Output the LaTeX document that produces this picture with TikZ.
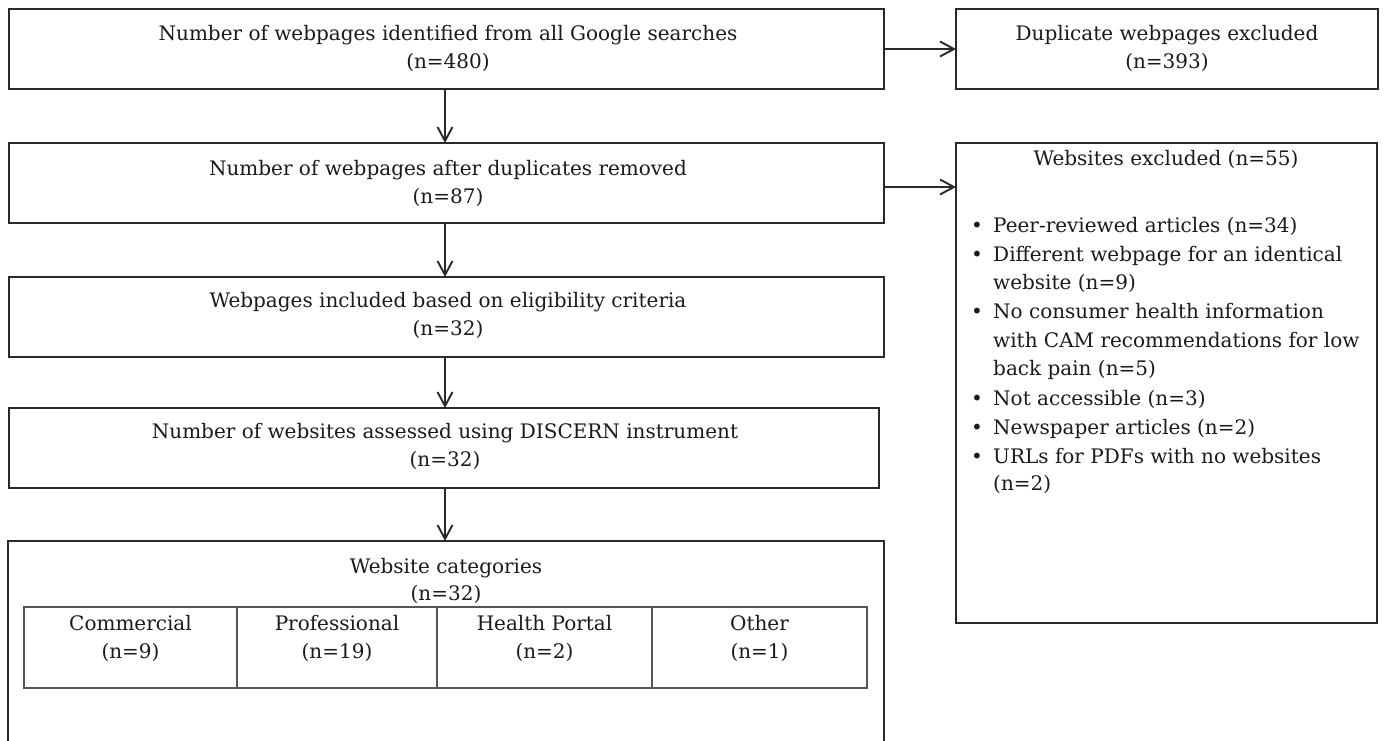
\documentclass[tikz,border=0pt]{standalone}
\usepackage{fontspec}
\setmainfont{DejaVu Serif}
\usetikzlibrary{arrows.meta}
\definecolor{ink}{HTML}{1C1A1B}
\definecolor{edge}{HTML}{2A2A2A}
\definecolor{gridc}{HTML}{555555}
\begin{document}
\begin{tikzpicture}[x=1pt,y=-1pt,
  box/.style={draw=edge, line width=1.9pt, anchor=north west, inner sep=0pt, outer sep=0pt},
  cell/.style={draw=gridc, line width=1.3pt, anchor=north west, inner sep=0pt, outer sep=0pt},
  txt/.style={anchor=base, inner sep=0pt, text=ink, font=\fontsize{20}{28}\selectfont},
  ltxt/.style={txt, anchor=base west},
  arr/.style={draw=edge, line width=1.9pt, -{Straight Barb[length=14pt,width=15pt,line width=1.9pt]}},
]
\useasboundingbox[fill=white] (0,0) rectangle (1389,740);
\begin{scope}
\clip (0,0) rectangle (1389,740);
% main boxes
\node[box, minimum width=875pt, minimum height=80pt] (b1) at (9,9) {};
\node[box, minimum width=422pt, minimum height=80pt] (dup) at (956,9) {};
\node[box, minimum width=875pt, minimum height=80pt] (b2) at (9,143) {};
\node[box, minimum width=421pt, minimum height=480pt] (excl) at (956,143) {};
\node[box, minimum width=875pt, minimum height=80pt] (b3) at (9,277) {};
\node[box, minimum width=870pt, minimum height=80pt] (b4) at (9,408) {};
\node[box, minimum width=876pt, minimum height=240pt] (b5) at (8,541) {};
% table cells
\node[cell, minimum width=213pt, minimum height=81pt] (c1) at (24,607) {};
\node[cell, minimum width=200pt, minimum height=81pt] (c2) at (237,607) {};
\node[cell, minimum width=215pt, minimum height=81pt] (c3) at (437,607) {};
\node[cell, minimum width=215pt, minimum height=81pt] (c4) at (652,607) {};
\end{scope}
% texts
\node[txt] (t1a) at (448,40) {Number of webpages identified from all Google searches};
\node[txt] (t1b) at (448,68) {(n=480)};
\node[txt] (d1) at (1167,40) {Duplicate webpages excluded};
\node[txt] (d2) at (1167,68) {(n=393)};
\node[txt] (t2a) at (448,175) {Number of webpages after duplicates removed};
\node[txt] (t2b) at (448,203) {(n=87)};
\node[txt] (t3a) at (448,307) {Webpages included based on eligibility criteria};
\node[txt] (t3b) at (448,335) {(n=32)};
\node[txt] (t4a) at (445,438) {Number of websites assessed using DISCERN instrument};
\node[txt] (t4b) at (445,466) {(n=32)};
\node[txt] (t5a) at (446,573) {Website categories};
\node[txt] (t5b) at (446,600) {(n=32)};
\node[txt] (c1a) at (130.5,630) {Commercial};
\node[txt] (c1b) at (130.5,658) {(n=9)};
\node[txt] (c2a) at (337,630) {Professional};
\node[txt] (c2b) at (337,658) {(n=19)};
\node[txt] (c3a) at (544.5,630) {Health Portal};
\node[txt] (c3b) at (544.5,658) {(n=2)};
\node[txt] (c4a) at (759.5,630) {Other};
\node[txt] (c4b) at (759.5,658) {(n=1)};
% excluded list
\node[txt] (e0) at (1166,165) {Websites excluded (n=55)};
\node[txt] (p1) at (977,232) {•};
\node[txt] (p2) at (977,261) {•};
\node[txt] (p3) at (977,318) {•};
\node[txt] (p4) at (977,405) {•};
\node[txt] (p5) at (977,434) {•};
\node[txt] (p6) at (977,463) {•};
\node[ltxt] (l1) at (993,232) {Peer-reviewed articles (n=34)};
\node[ltxt] (l2) at (993,261) {Different webpage for an identical};
\node[ltxt] (l3) at (993,289) {website (n=9)};
\node[ltxt] (l4) at (993,318) {No consumer health information};
\node[ltxt] (l5) at (993,347) {with CAM recommendations for low};
\node[ltxt] (l6) at (993,375) {back pain (n=5)};
\node[ltxt] (l7) at (993,405) {Not accessible (n=3)};
\node[ltxt] (l8) at (993,434) {Newspaper articles (n=2)};
\node[ltxt] (l9) at (993,463) {URLs for PDFs with no websites};
\node[ltxt] (l10) at (993,490) {(n=2)};
% connectors
\draw[arr] (b1.east) -- (dup.west);
\draw[arr] ([yshift=-4pt]b2.east) -- ([yshift=-4pt]b2.east -| excl.west);
\draw[arr] (b1.south -| 445,0) -- (b2.north -| 445,0);
\draw[arr] (b2.south -| 445,0) -- (b3.north -| 445,0);
\draw[arr] (b3.south -| 445,0) -- (b4.north -| 445,0);
\draw[arr] (b4.south -| 445,0) -- (b5.north -| 445,0);
\end{tikzpicture}
\end{document}
